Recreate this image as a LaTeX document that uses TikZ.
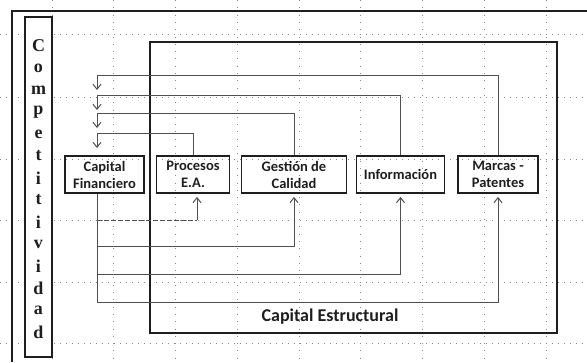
\documentclass[tikz,border=0pt]{standalone}
\usepackage{fontspec}
\setmainfont{Carlito}
\newfontfamily\serifb{Liberation Serif}[BoldFont={Liberation Serif Bold}]
\usetikzlibrary{arrows.meta,calc}
\definecolor{ink}{HTML}{1E1E1E}
\definecolor{conncol}{HTML}{505050}
\definecolor{gridcol}{HTML}{8A8A8A}
\begin{document}
\begin{tikzpicture}[x=1pt,y=-1pt,
  gridh/.style={gridcol,line width=0.8pt,dash pattern=on 0.8pt off 5.2pt},
  gridv/.style={gridcol,line width=0.8pt,dash pattern=on 0.8pt off 6.5pt},
  frame/.style={ink,line width=1.8pt},
  item/.style={draw=ink,line width=1.8pt,minimum height=37pt,align=center,
     font=\fontsize{14.5}{17}\selectfont\bfseries,text=ink,inner sep=1pt},
  letter/.style={font=\serifb\bfseries\fontsize{18}{18}\selectfont,text=ink,inner sep=0pt},
  conn/.style={conncol,line width=1pt},
  arr/.style={conn,-{Straight Barb[length=5pt,width=8pt,line width=1pt]}},
]
\useasboundingbox (0,0) rectangle (587,362);
% dotted grid
\foreach \y in {34,97,159,220,282,343} \draw[gridh] (0,\y) -- (587,\y);
\foreach \k in {0,...,8} \draw[gridv] ({52+61.75*\k},0) -- ({52+61.75*\k},362);
% outer frame (runs off the picture)
\draw[frame] (12,362) -- (12,11) -- (587,11);
% Competitividad column
\node[draw=ink,fill=white,line width=1.8pt,minimum width=27pt,minimum height=340pt,inner sep=0pt] (comp) at (38.5,187) {};
\foreach \c [count=\i from 0] in {C,o,m,p,e,t,i,t,i,v,i,d,a,d}
  \node[letter] (l\i) at (38.5,{46+22*\i}) {\c};
% Capital Estructural frame
\node[draw=ink,line width=1.8pt,minimum width=407pt,minimum height=291pt,inner sep=0pt] (cest) at (353.5,187.5) {};
\node[font=\fontsize{18}{18}\selectfont\bfseries,text=ink] (cestlabel) at (330,317) {Capital Estructural};
% items
\node[item,minimum width=79pt] (cap) at (104.5,174.5) {Capital\\Financiero};
\node[item,minimum width=73pt] (proc) at (193,174.5) {Procesos\\E.A.};
\node[item,minimum width=105pt] (gest) at (294,174.5) {Gestión de\\Calidad};
\node[item,minimum width=88pt] (info) at (400.5,174.5) {Información};
\node[item,minimum width=80pt] (marc) at (498,174.5) {Marcas -\\Patentes};
% feedback arrows into Capital Financiero (top)
\coordinate (cx) at (97,0);
\coordinate (t1) at (97,90);
\coordinate (t2) at (97,110);
\coordinate (t3) at (97,128);
\coordinate (t4) at (97,148);
\draw[arr] (marc.north) |- (97,75) -- (t1);
\draw[arr] (info.north) |- (97,95) -- (t2);
\draw[arr] (gest.north) |- (97,113) -- (t3);
\draw[arr] (proc.north) |- (97,133) -- (t4);
% from Capital Financiero (bottom)
\draw[conn] (cap.south -| cx) -- (97,302);
\draw[conn,dash pattern=on 5pt off 2pt] (97,220) -- (197,220);
\draw[arr,shorten >=3pt] (197,220) -- ([xshift=4pt]proc.south);
\draw[arr,shorten >=3pt] (97,246) -| (gest.south);
\draw[arr,shorten >=3pt] (97,274) -| (info.south);
\draw[arr,shorten >=3pt] (97,302) -| (marc.south);
\end{tikzpicture}
\end{document}
